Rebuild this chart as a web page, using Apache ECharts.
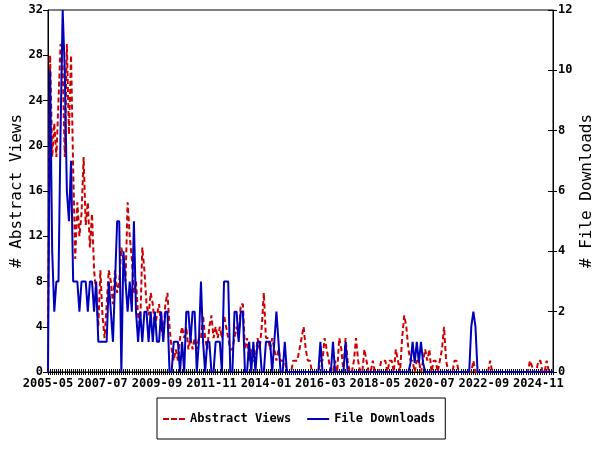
<!DOCTYPE html>
<html>
<head>
<meta charset="utf-8">
<script src="https://cdn.jsdelivr.net/npm/echarts@6/dist/echarts.min.js"></script>
<style>
html,body{margin:0;padding:0;background:#fff;}
#chart{width:600px;height:450px;}
</style>
</head>
<body>
<div id="chart"></div>
<script>
// Monthly categories from 2005-05, 242 months (to 2025-06)
const startYear = 2005, startMonth = 5, monthCount = 242;
const tickLabels = ['2005-05','2007-07','2009-09','2011-11','2014-01','2016-03','2018-05','2020-07','2022-09','2024-11'];

// # Abstract Views (left axis)
const abstractViews = [
  4,28,19,22,19,24,29,27,19,29,21,28,18,10,15,12,14,19,13,15,11,14,9,7,4,9,
  5,3,6,9,8,6,9,7,8,11,10,8,15,12,10,7,8,5,4,11,9,6,5,7,6,4,
  5,6,4,3,6,7,4,2,1,2,1,3,4,3,4,2,3,2,3,2,3,3,5,3,2,4,
  5,3,4,3,4,3,5,4,3,2,2,3,4,3,6,6,2,3,1,2,1,1,3,2,4,7,
  3,3,2,3,2,1,2,1,1,1,0,0,0,1,1,1,2,3,4,2,1,1,0,0,0,0,1,
  1,3,2,1,0,0,1,0,3,2,0,3,1,0,0,1,3,1,0,0,2,1,0,0,1,
  0,0,0,1,1,1,0,1,1,0,2,1,0,3,5,4,2,1,1,0,1,1,0,1,2,1,2,
  0,1,1,0,1,2,4,1,0,0,0,1,1,0,0,0,0,0,0,0,1,0,
  0,0,0,0,0,0,1,0,0,0,0,0,0,0,0,0,0,0,0,0,0,0,0,0,0,1,0.5,0,0,1,1,0,0,1,0,0,0
];

// # File Downloads (right axis)
const fileDownloads = [
  0,10,4,2,3,3,8,12,10,6,5,7,3,3,3,2,3,3,3,2,3,3,2,3,1,1,
  1,1,1,3,2,1,3,5,5,0,4,3,2,3,2,5,2,1,2,1,2,2,1,2,1,2,
  1,1,2,1,2,2,0,0,1,1,1,0,1,0,2,2,1,2,2,0,1,3,1,0,1,1,
  0,0,1,1,1,0,3,3,3,0,0,2,2,1,2,2,0,0,1,0,1,0,1,1,0,0,
  1,1,1,0,1,2,1,0,0,1,0,0,0,0,0,0,0,0,0,0,0,0,0,0,0,0,1,
  0,0,0,0,0,1,0,0,0,0,0,1,0,0,0,0,0,0,0,0,0,0,0,0,0,
  0,0,0,0,0,0,0,0,0,0,0,0,0,0,0,0,0,0.3,1,0.3,1,0.3,1,0.3,0,0,0,
  0,0,0,0,0,0,0,0,0,0,0,0,0,0,0,0,0,0,0,1.5,2,1.5,
  0,0,0,0,0,0,0,0,0,0,0,0,0,0,0,0,0,0,0,0,0,0,0,0,0,0,0,0,0,0,0,0,0,0,0,0,0
];

const months = [];
for (let k = 0; k < monthCount; k++) {
  const t = startMonth - 1 + k;
  const y = startYear + Math.floor(t / 12);
  const m = t % 12 + 1;
  months.push(y + '-' + (m < 10 ? '0' + m : '' + m));
}

const FONT = 'DejaVu Sans Mono';
const RED = '#cc0000', BLUE = '#0000bb';
const chart = echarts.init(document.getElementById('chart'), null, {renderer: 'canvas'});
const black = {color: '#000', width: 1};

chart.setOption({
  animation: false,
  backgroundColor: '#fff',
  grid: {left: 48, right: 47, top: 10, bottom: 78, show: true, borderColor: '#000', borderWidth: 1,
         containLabel: false, outerBoundsMode: 'none'},
  legend: {
    data: [
      {name: 'Abstract Views', icon: 'path://M0,0h6v2h-6z M8,0h6v2h-6z M16,0h6v2h-6z', itemStyle: {color: RED}},
      {name: 'File Downloads', icon: 'path://M0,0h22v2h-22z', itemStyle: {color: BLUE}}
    ],
    left: 157, top: 398,
    padding: [15, 10, 14, 6],
    itemGap: 16, itemWidth: 22, itemHeight: 2,
    borderColor: '#000', borderWidth: 1,
    textStyle: {fontFamily: FONT, fontSize: 12, fontWeight: 'bold', color: '#000'}
  },
  xAxis: [
    {
      type: 'category', data: months, boundaryGap: false, position: 'bottom',
      axisLine: {lineStyle: black},
      axisTick: {show: true, interval: 0, length: 3, lineStyle: black},
      axisLabel: {
        interval: function (i, v) { return tickLabels.indexOf(v) >= 0; },
        margin: 6, fontFamily: FONT, fontSize: 12, fontWeight: 'bold', color: '#000'
      },
      splitLine: {show: false}
    },
    {
      type: 'category', data: months, boundaryGap: false, position: 'bottom',
      axisLine: {show: false},
      axisTick: {show: true, inside: true, interval: 0, length: 3, lineStyle: black},
      axisLabel: {show: false}, splitLine: {show: false}
    }
  ],
  yAxis: [
    {
      type: 'value', min: 0, max: 32, interval: 4, position: 'left',
      name: '# Abstract Views', nameLocation: 'middle', nameGap: 23, nameRotate: 90,
      nameMoveOverlap: false,
      nameTextStyle: {fontFamily: FONT, fontSize: 16, color: '#000'},
      axisLine: {show: true, lineStyle: black},
      axisTick: {show: true, length: 5, lineStyle: black},
      axisLabel: {margin: 5, fontFamily: FONT, fontSize: 12, fontWeight: 'bold', color: '#000'},
      splitLine: {show: false}
    },
    {
      type: 'value', min: 0, max: 12, interval: 2, position: 'right',
      name: '# File Downloads', nameLocation: 'middle', nameGap: 26, nameRotate: 90,
      nameMoveOverlap: false,
      nameTextStyle: {fontFamily: FONT, fontSize: 16, color: '#000'},
      axisLine: {show: true, lineStyle: black},
      axisTick: {show: true, length: 4, lineStyle: black},
      axisLabel: {margin: 5, fontFamily: FONT, fontSize: 12, fontWeight: 'bold', color: '#000'},
      splitLine: {show: false}
    },
    {
      type: 'value', min: 0, max: 12, interval: 2, position: 'right',
      axisLine: {show: false},
      axisTick: {show: true, inside: true, length: 5, lineStyle: black},
      axisLabel: {show: false}, splitLine: {show: false}
    }
  ],
  series: [
    {
      name: 'Abstract Views', type: 'line', xAxisIndex: 0, yAxisIndex: 0,
      data: abstractViews, symbol: 'none', showSymbol: false,
      itemStyle: {color: RED},
      lineStyle: {color: RED, width: 2, type: [5, 3]}
    },
    {
      name: 'File Downloads', type: 'line', xAxisIndex: 0, yAxisIndex: 1,
      data: fileDownloads, symbol: 'none', showSymbol: false,
      itemStyle: {color: BLUE},
      lineStyle: {color: BLUE, width: 2}
    }
  ]
});
</script>
</body>
</html>
